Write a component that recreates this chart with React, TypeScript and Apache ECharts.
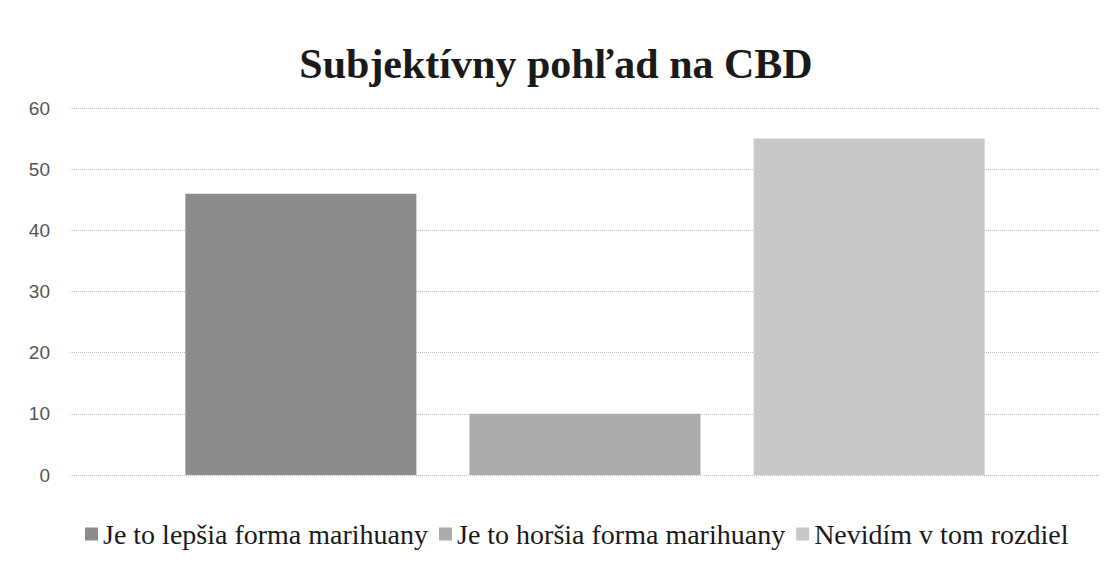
import React, { useEffect, useRef } from "react";
import * as echarts from "echarts";

const categories = [""];
const seriesNames = [
  "Je to lepšia forma marihuany",
  "Je to horšia forma marihuany",
  "Nevidím v tom rozdiel",
];
const seriesValues = [46, 10, 55];
const seriesColors = ["#8c8c8c", "#ababab", "#c8c8c8"];
const yTicks = { min: 0, max: 60, interval: 10 };

export default function App() {
  const ref = useRef<HTMLDivElement>(null);
  useEffect(() => {
    if (!ref.current) return;
    document.body.style.margin = "0";
    const chart = echarts.init(ref.current, undefined, { renderer: "svg" });
    chart.setOption({
      animation: false,
      backgroundColor: "#ffffff",
      title: {
        text: "Subjektívny pohľad na CBD",
        left: "center",
        top: 38,
        textStyle: {
          fontFamily: "Liberation Serif",
          fontWeight: "bold",
          fontSize: 42,
          color: "#1a1a1a",
        },
      },
      legend: {
        bottom: 11,
        left: 80,
        itemWidth: 13,
        itemHeight: 13,
        itemGap: 11,
        icon: "rect",
        textStyle: {
          fontFamily: "Liberation Serif",
          fontSize: 28,
          color: "#1a1a1a",
          padding: [0, 0, 0, 0],
        },
        data: seriesNames,
      },
      grid: { left: 70, right: 12, top: 108, bottom: 89, containLabel: false },
      xAxis: {
        type: "category",
        data: categories,
        axisLine: { show: false },
        axisTick: { show: false },
        axisLabel: { show: false },
      },
      yAxis: {
        type: "value",
        min: yTicks.min,
        max: yTicks.max,
        interval: yTicks.interval,
        axisLine: { show: false },
        axisTick: { show: false },
        axisLabel: {
          fontFamily: "Liberation Sans",
          fontSize: 19,
          color: "#555555",
          margin: 20,
        },
        splitLine: { lineStyle: { color: "#bdbdbd", type: "dotted", width: 1 } },
      },
      series: seriesNames.map((name, i) => ({
        name,
        type: "bar",
        barWidth: 231,
        barGap: "23%",
        data: [seriesValues[i]],
        itemStyle: { color: seriesColors[i] },
      })),
    });
    return () => chart.dispose();
  }, []);
  return <div ref={ref} style={{ width: 1112, height: 564 }} />;
}
